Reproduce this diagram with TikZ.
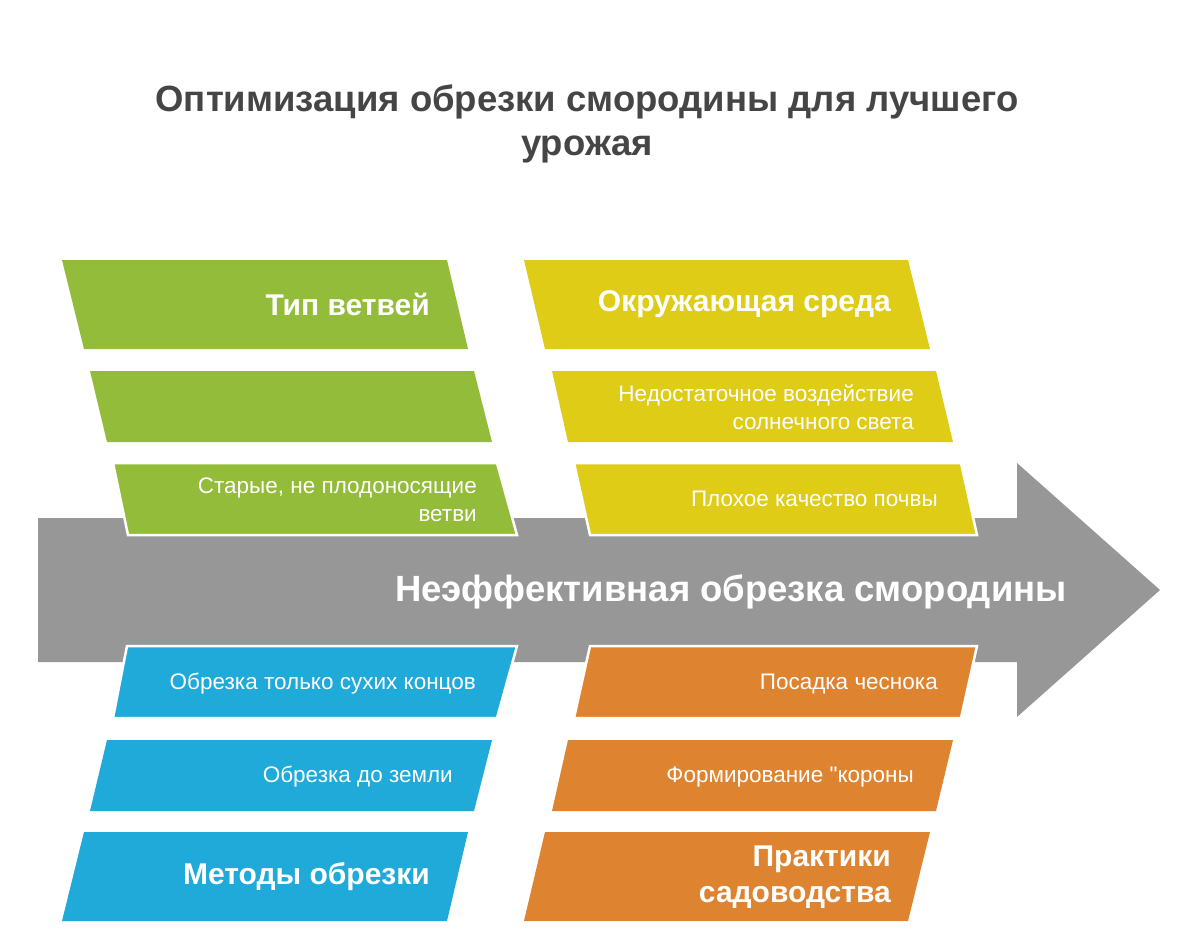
\documentclass[tikz,border=0pt]{standalone}
\usepackage{fontspec}
\setmainfont{Liberation Sans}[Ligatures=TeXOff]
\usetikzlibrary{positioning}
\definecolor{curgreen}{HTML}{93BC3A}
\definecolor{curyellow}{HTML}{DECC17}
\definecolor{curblue}{HTML}{1FAAD9}
\definecolor{curorange}{HTML}{DE8431}
\definecolor{curgray}{HTML}{979797}
\definecolor{curink}{HTML}{454545}
\tikzset{
  slab/.style={draw=white, line width=2.5pt, line join=miter},
  hdr/.style={anchor=east, inner sep=0pt, align=right, text=white, font=\bfseries\fontsize{30}{36}\selectfont},
  sub/.style={anchor=east, inner sep=0pt, align=right, text=white, font=\fontsize{22.5}{28}\selectfont},
}

\begin{document}
\begin{tikzpicture}[x=1pt, y=-1pt]
  \useasboundingbox[fill=white] (0,0) rectangle (1200,950);
  % title
  \node[align=center, text=curink, font=\bfseries\fontsize{36.5}{44}\selectfont] (title) at (587,124) {Оптимизация обрезки смородины для лучшего\\урожая};
  % spine
  \fill[curgray] (38,518) -- (1017,518) -- (1017,463) -- (1160,590) -- (1017,717) -- (1017,662) -- (38,662) -- cycle;
  \node[anchor=east, inner sep=0pt, text=white, font=\bfseries\fontsize{36.5}{40}\selectfont] (effect) at (1067,592) {Неэффективная обрезка смородины};
  % top left: green
  \fill[curgreen] (62,260) -- (447,260) -- (468,349) -- (84,349) -- cycle;
  \fill[curgreen] (90,371) -- (474,371) -- (492,442) -- (107,442) -- cycle;
  \filldraw[slab, fill=curgreen] (113,463) -- (497,463) -- (517,535) -- (128,535) -- cycle;
  \node[hdr] (branches) at (430,304) {Тип ветвей};
  \node[sub] (oldwood) at (477,500) {Старые, не плодоносящие\\ветви};
  % top right: yellow
  \fill[curyellow] (524,260) -- (908,260) -- (930,349) -- (545,349) -- cycle;
  \fill[curyellow] (552,371) -- (936,371) -- (953,442) -- (568,442) -- cycle;
  \filldraw[slab, fill=curyellow] (574,463) -- (961,463) -- (977,535) -- (590,535) -- cycle;
  \node[hdr] (environ) at (891,304) {Окружающая среда};
  \node[sub] (sunlight) at (914,407) {Недостаточное воздействие\\солнечного света};
  \node[sub] (soil) at (938,499) {Плохое качество почвы};
  % bottom left: blue
  \filldraw[slab, fill=curblue] (127,646) -- (517,646) -- (497,718) -- (113,718) -- cycle;
  \fill[curblue] (107,740) -- (492,740) -- (474,811) -- (90,811) -- cycle;
  \fill[curblue] (84,832) -- (468,832) -- (447,921) -- (62,921) -- cycle;
  \node[sub] (dryends) at (476,684) {Обрезка только сухих концов};
  \node[sub] (toground) at (453,777) {Обрезка до земли};
  \node[hdr] (methods) at (430,877) {Методы обрезки};
  % bottom right: orange
  \filldraw[slab, fill=curorange] (590,646) -- (977,646) -- (961,718) -- (574,718) -- cycle;
  \fill[curorange] (568,740) -- (953,740) -- (936,811) -- (552,811) -- cycle;
  \fill[curorange] (545,832) -- (930,832) -- (908,921) -- (524,921) -- cycle;
  \node[sub] (garlic) at (938,684) {Посадка чеснока};
  \node[sub] (crown) at (914,777) {Формирование "короны};
  \node[hdr] (practice) at (891,877) {Практики\\садоводства};
\end{tikzpicture}
\end{document}
